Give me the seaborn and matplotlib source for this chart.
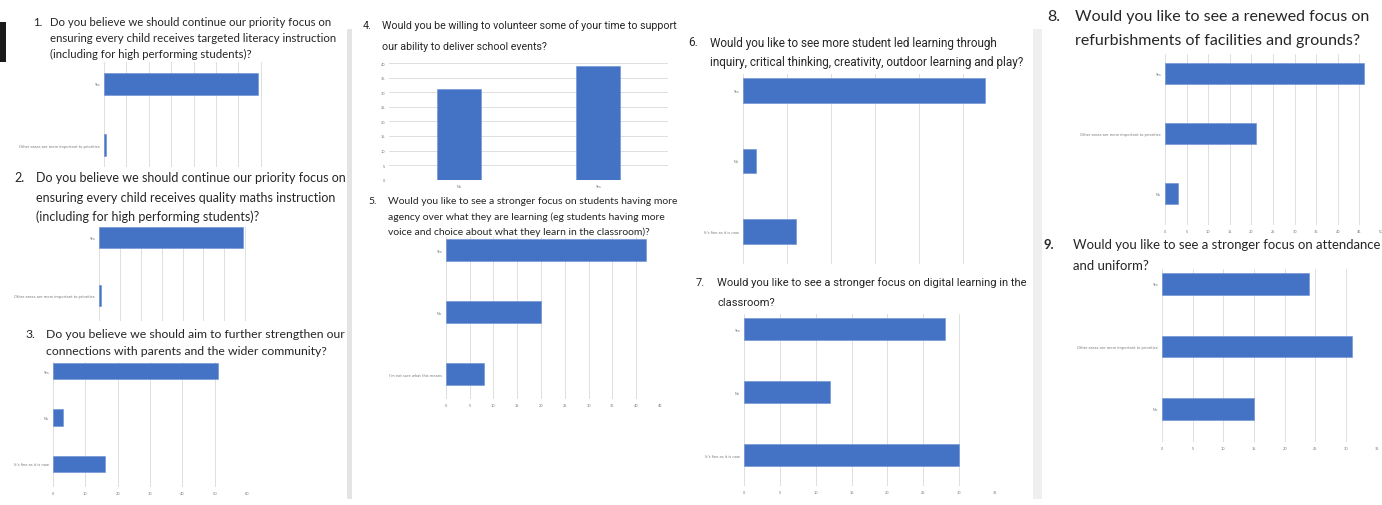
import matplotlib
matplotlib.use("Agg")
import matplotlib.pyplot as plt
import seaborn as sns
from matplotlib.patches import Rectangle

# survey answers (counts, ~70 replies each)
q1_labels = ["Yes", "Other areas are more important to prioritise"]
q1_counts = [69, 1]
q2_labels = ["Yes", "Other areas are more important to prioritise"]
q2_counts = [69, 1]
q3_labels = ["Yes", "No", "It's fine as it is now"]
q3_counts = [51, 3, 16]
q4_labels = ["No", "Yes"]
q4_counts = [31, 39]
q5_labels = ["Yes", "No", "I'm not sure what this means"]
q5_counts = [42, 20, 8]
q6_labels = ["Yes", "No", "It's fine as it is now"]
q6_counts = [55, 3, 12]
q7_labels = ["Yes", "No", "It's fine as it is now"]
q7_counts = [28, 12, 30]
q8_labels = ["Yes", "Other areas are more important to prioritise", "No"]
q8_counts = [46, 21, 3]
q9_labels = ["Yes", "Other areas are more important to prioritise", "No"]
q9_counts = [24, 31, 15]

BLUE = "#4472C4"
GRID = "#dedede"
TXT = "#262626"
CALIBRI = ["Lato", "DejaVu Sans"]
NARROW = ["Liberation Sans Narrow", "Roboto", "DejaVu Sans"]

sns.set_style("white")

W, H = 1382, 506
fig = plt.figure(figsize=(W / 100, H / 100), dpi=100)
renderer = fig.canvas.get_renderer()


def px_axes(l, r, t, b):
    return fig.add_axes([l / W, 1 - b / H, (r - l) / W, (b - t) / H])


def title(num, lines, nx, tx, ys, width, family, bold_num=False):
    txts = [fig.text(tx / W, 1 - y / H, s, fontsize=10, family=family, color=TXT,
                     va="center", ha="left") for s, y in zip(lines, ys)]
    w = txts[0].get_window_extent(renderer).width
    size = 10 * width / w
    for t in txts:
        t.set_fontsize(size)
    fig.text(nx / W, 1 - ys[0] / H, num, fontsize=size, family=family, color=TXT,
             va="center", ha="left", fontweight="bold" if bold_num else "normal")


def hbar(box, labels, counts, xmax, step, ylim, width, show_x=True):
    ax = px_axes(*box)
    sns.barplot(x=counts, y=labels, color=BLUE, saturation=1, width=width,
                edgecolor="#6a8fd3", linewidth=0.4, ax=ax)
    ax.set_xlim(0, xmax)
    ax.set_xticks(range(0, xmax + 1, step))
    ax.set_ylim(*ylim)
    ax.grid(axis="x", color=GRID, lw=0.7)
    ax.set_axisbelow(True)
    sns.despine(ax=ax, left=True, bottom=True)
    ax.tick_params(length=0, labelsize=2.6, labelcolor="#777777", pad=3)
    ax.set_xlabel("")
    ax.set_ylabel("")
    if not show_x:
        ax.set_xticklabels([])
    return ax


# separators / frame bits from the screenshot
fig.add_artist(Rectangle((0, 1 - 63 / H), 6 / W, 40 / H, transform=fig.transFigure,
                         color="#1a1a1a", lw=0))
fig.add_artist(Rectangle((347 / W, 1 - 500 / H), 5 / W, 470 / H, transform=fig.transFigure,
                         color="#e4e4e4", lw=0))
fig.add_artist(Rectangle((1033 / W, 1 - 500 / H), 9 / W, 470 / H, transform=fig.transFigure,
                         color="#efefef", lw=0))

# 1
title("1.", ["Do you believe we should continue our priority focus on",
             "ensuring every child receives targeted literacy instruction",
             "(including for high performing students)?"],
      33, 50, [22.7, 38.5, 54.5], 283, CALIBRI)
hbar((104, 283, 63, 168), q1_labels, q1_counts, 80, 10, (1.36, -0.36), 0.36, show_x=False)

# 2
title("2.", ["Do you believe we should continue our priority focus on",
             "ensuring every child receives quality maths instruction",
             "(including for high performing students)?"],
      14, 36, [178, 198, 217], 310, CALIBRI)
hbar((99, 266, 228, 322), q2_labels, q2_counts, 80, 10, (1.45, -0.18), 0.365, show_x=False)

# 3
title("3.", ["Do you believe we should aim to further strengthen our",
             "connections with parents and the wider community?"],
      25, 46, [335, 352], 300, CALIBRI)
hbar((53, 247, 363, 488), q3_labels, q3_counts, 60, 10, (2.5, -0.2), 0.35)

# 4 (vertical)
title("4.", ["Would you be willing to volunteer some of your time to support",
             "our ability to deliver school events?"],
      363, 382, [26, 47], 294, NARROW)
ax4 = px_axes(389.5, 667.5, 64, 180.7)
sns.barplot(x=q4_labels, y=q4_counts, color=BLUE, saturation=1, width=0.31,
            edgecolor="#6a8fd3", linewidth=0.4, ax=ax4)
ax4.set_ylim(0, 40)
ax4.set_yticks(range(0, 41, 5))
ax4.grid(axis="y", color=GRID, lw=0.7)
ax4.set_axisbelow(True)
sns.despine(ax=ax4, left=True, bottom=True)
ax4.tick_params(length=0, labelsize=2.6, labelcolor="#777777", pad=3)

# 5
title("5.", ["Would you like to see a stronger focus on students having more",
             "agency over what they are learning (eg students having more",
             "voice and choice about what they learn in the classroom)?"],
      368, 388, [202, 217, 232], 292, CALIBRI)
hbar((445.7, 660, 238, 400), q5_labels, q5_counts, 45, 5, (2.4, -0.21), 0.35)

# 6
title("6.", ["Would you like to see more student led learning through",
             "inquiry, critical thinking, creativity, outdoor learning and play?"],
      688, 710, [43, 63], 290, NARROW)
hbar((742.7, 1006.7, 75, 265), q6_labels, q6_counts, 60, 10, (2.46, -0.23), 0.35, show_x=False)

# 7
title("7.", ["Would you like to see a stronger focus on digital learning in the",
             "classroom?"],
      696, 717, [283, 303], 309, NARROW)
hbar((744, 995, 315, 487), q7_labels, q7_counts, 35, 5, (2.49, -0.24), 0.345)

# 8
title("8.", ["Would you like to see a renewed focus on",
             "refurbishments of facilities and grounds?"],
      1047, 1075, [17, 41], 297, CALIBRI)
hbar((1165, 1381, 55, 226), q8_labels, q8_counts, 50, 5, (2.52, -0.33), 0.345)

# 9
title("9.", ["Would you like to see a stronger focus on attendance",
             "and uniform?"],
      1043, 1073, [245, 266], 307, CALIBRI, bold_num=True)
hbar((1162, 1376.7, 270, 443), q9_labels, q9_counts, 35, 5, (2.53, -0.24), 0.347)

fig.savefig("out.png", dpi=100)
